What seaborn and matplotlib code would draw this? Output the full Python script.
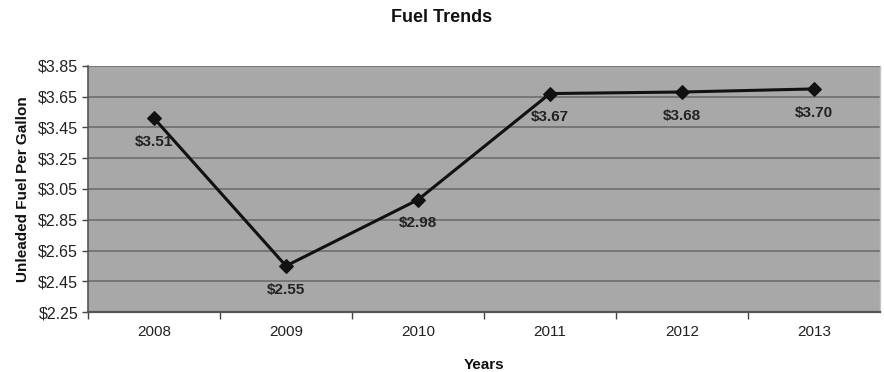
import matplotlib
matplotlib.use("Agg")
import matplotlib.pyplot as plt
import seaborn as sns
import pandas as pd
import numpy as np

years = ["2008", "2009", "2010", "2011", "2012", "2013"]
prices = [3.51, 2.55, 2.98, 3.67, 3.68, 3.70]
y_ticks = [2.25, 2.45, 2.65, 2.85, 3.05, 3.25, 3.45, 3.65, 3.85]

sns.set_theme(style="white")
plt.rcParams["font.family"] = ["Liberation Sans", "DejaVu Sans"]

df = pd.DataFrame({"Year": years, "Price": prices})

fig = plt.figure(figsize=(8.84, 3.72), dpi=100)
ax = fig.add_axes([0.0995, 0.161, 0.896, 0.662])
ax.set_facecolor("#a8a8a8")

sns.lineplot(data=df, x="Year", y="Price", ax=ax, color="#111111",
             linewidth=2.2, marker="D", markersize=7.5, markeredgecolor="#111111",
             zorder=3)

ax.set_ylim(2.25, 3.85)
ax.set_yticks(y_ticks)
ax.set_yticklabels([f"${v:.2f}" for v in y_ticks], fontsize=11.5, color="#222222")
ax.set_xlim(-0.5, len(years) - 0.5)
ax.set_xticks(range(len(years)))
ax.set_xticklabels(years, fontsize=11, color="#222222")
ax.set_xticks(np.arange(-0.5, len(years) - 1, 1.0), minor=True)
ax.tick_params(axis="x", which="major", length=0, pad=9)
ax.tick_params(axis="x", which="minor", length=5, width=1, color="#444444", direction="out")
ax.tick_params(axis="y", which="major", length=4, width=1, color="#444444", direction="out", pad=3)
ax.yaxis.set_ticks_position("left")
ax.xaxis.set_ticks_position("bottom")

ax.grid(axis="y", color="#6e6e6e", linewidth=1.2)
ax.set_axisbelow(True)
ax.spines["top"].set_visible(False)
ax.spines["right"].set_color("#c4c4c4")
ax.spines["right"].set_linewidth(1.0)
ax.spines["left"].set_color("#555555")
ax.spines["bottom"].set_color("#555555")
ax.spines["left"].set_linewidth(1.2)
ax.spines["bottom"].set_linewidth(1.6)

for i, v in enumerate(prices):
    ax.annotate(f"${v:.2f}", (i, v), xytext=(0, -12), textcoords="offset points",
                ha="center", va="top", fontsize=11, fontweight="bold", color="#222222")

ax.set_xlabel("Years", fontsize=11, fontweight="bold", color="#111111", labelpad=14)
ax.set_ylabel("Unleaded Fuel Per Gallon", fontsize=11, fontweight="bold", color="#111111", labelpad=6)
fig.text(0.5, 0.952, "Fuel Trends", ha="center", va="center",
         fontsize=13, fontweight="bold", color="#111111")

fig.savefig("out.png", dpi=100)
